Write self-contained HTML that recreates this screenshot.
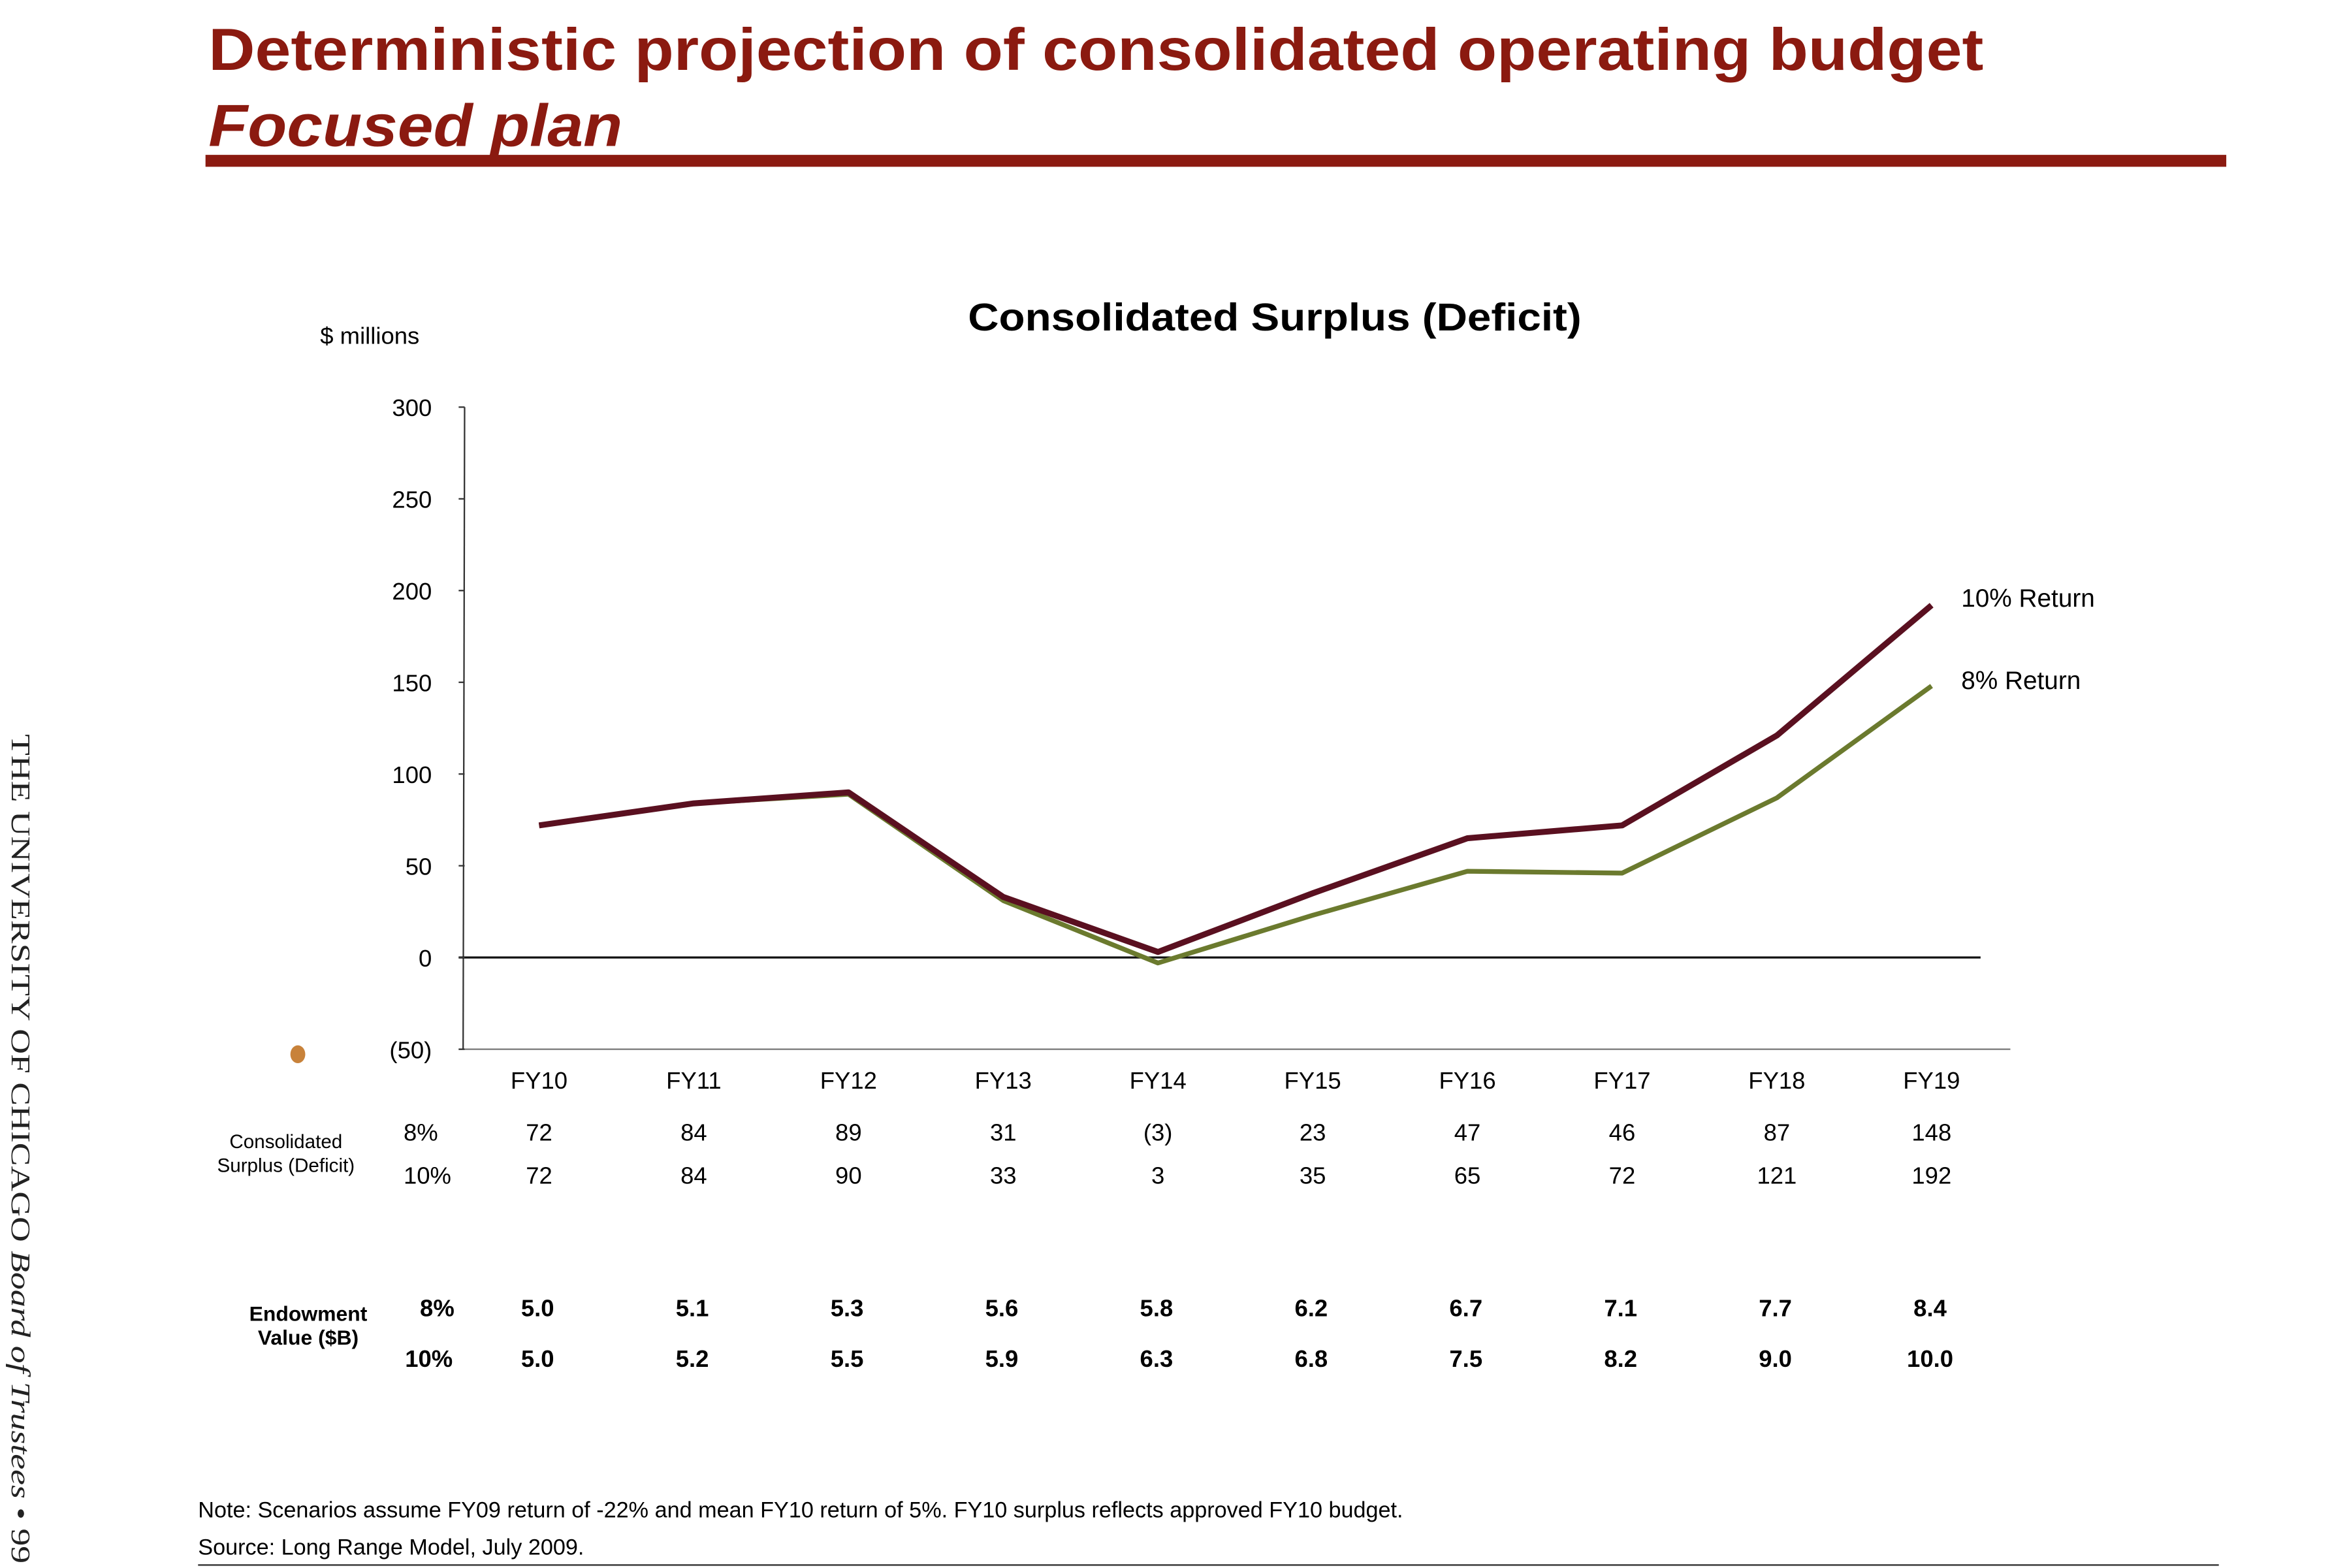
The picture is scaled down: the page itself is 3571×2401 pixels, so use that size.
<!DOCTYPE html>
<html><head><meta charset="utf-8"><style>html,body{margin:0;padding:0;background:#fff}svg{display:block}</style></head>
<body>
<svg id="chart" xmlns="http://www.w3.org/2000/svg" width="3571" height="2401" viewBox="0 0 1566 1053" preserveAspectRatio="none" font-family="'Liberation Sans', Arial, sans-serif">
<rect width="1566" height="1053" fill="#fff"/>
<text x="140" y="47" font-size="40" font-weight="bold" fill="#8b1a10" textLength="1192" lengthAdjust="spacingAndGlyphs">Deterministic projection of consolidated operating budget</text>
<text x="140" y="98" font-size="40" font-weight="bold" font-style="italic" fill="#8b1a10" textLength="278" lengthAdjust="spacingAndGlyphs">Focused plan</text>
<rect x="138" y="104" width="1357" height="8" fill="#8b1a10"/>
<text transform="translate(8,493) rotate(90)" font-family="'Liberation Serif', serif" font-size="18" fill="#222" textLength="557" lengthAdjust="spacingAndGlyphs">THE UNIVERSITY OF CHICAGO <tspan font-style="italic">Board of Trustees</tspan> • 99</text>
<text x="856" y="222" font-size="26" font-weight="bold" text-anchor="middle" textLength="412" lengthAdjust="spacingAndGlyphs">Consolidated Surplus (Deficit)</text>
<text x="215" y="231" font-size="16">$ millions</text>
<ellipse cx="200" cy="708" rx="5" ry="6" fill="#c8823a"/>
<g id="axes"></g>
<g id="series"></g>
<g id="table"></g>
<text x="133" y="1019" font-size="15">Note: Scenarios assume FY09 return of -22% and mean FY10 return of 5%.  FY10 surplus reflects approved FY10 budget.</text>
<text x="133" y="1044" font-size="15">Source: Long Range Model, July 2009.</text>
<line x1="133" y1="1051" x2="1490" y2="1051" stroke="#444" stroke-width="1.2"/>
</svg>
<script>
const categories = ["FY10","FY11","FY12","FY13","FY14","FY15","FY16","FY17","FY18","FY19"];
const surplus8 = [72,84,89,31,-3,23,47,46,87,148];
const surplus10 = [72,84,90,33,3,35,65,72,121,192];
const endow8 = ["5.0","5.1","5.3","5.6","5.8","6.2","6.7","7.1","7.7","8.4"];
const endow10 = ["5.0","5.2","5.5","5.9","6.3","6.8","7.5","8.2","9.0","10.0"];
const yTicks = [300,250,200,150,100,50,0,-50];

const NS = "http://www.w3.org/2000/svg";
function y(v){ return 643 - v * (61.6/50); }
function x(i){ return 362 + i * 103.9; }
function mk(tag, attrs, parent, txt){
  const e = document.createElementNS(NS, tag);
  for (const k in attrs) e.setAttribute(k, attrs[k]);
  if (txt !== undefined) e.textContent = txt;
  parent.appendChild(e);
  return e;
}
function fmt(v){ return v < 0 ? "(" + (-v) + ")" : String(v); }
const axes = document.getElementById("axes");
let e = mk("line",{x1:312,y1:y(300),x2:311,y2:y(-50),stroke:"#333","stroke-width":1},axes);


e = mk("line",{x1:308,y1:y(-50),x2:1350,y2:y(-50),stroke:"#777","stroke-width":1},axes);


e = mk("line",{x1:308,y1:y(0),x2:1330,y2:y(0),stroke:"#111","stroke-width":1.4},axes);


yTicks.forEach(v => {
  const t = mk("line",{x1:308,y1:y(v),x2:312,y2:y(v),stroke:"#333","stroke-width":1},axes);
  
  
  const l = mk("text",{x:290,y:y(v)+6,"font-size":16,"text-anchor":"end"},axes,fmt(v));
  
  
});
categories.forEach((c,i) => {
  const l = mk("text",{x:x(i),y:731,"font-size":16,"text-anchor":"middle"},axes,c);
  
  
});
const series = document.getElementById("series");
function pts(arr){ return arr.map((v,i)=>x(i)+","+y(v)).join(" "); }
let p = mk("polyline",{points:pts(surplus8),fill:"none",stroke:"#6b7a2e","stroke-width":3.2,"stroke-linejoin":"round"},series);


p = mk("polyline",{points:pts(surplus10),fill:"none",stroke:"#5a1020","stroke-width":4,"stroke-linejoin":"round"},series);


let lb = mk("text",{x:1317,y:y(surplus10[9])+1,"font-size":17},series,"10% Return");


lb = mk("text",{x:1317,y:y(surplus8[9])+2,"font-size":17},series,"8% Return");



const tb = document.getElementById("table");
function row(txt, attrs, name){
  const t = mk("text", attrs, tb, txt);
  
  
}
row("Consolidated",{x:192,y:771,"font-size":13,"text-anchor":"middle"},"surplus-row-label");
row("Surplus (Deficit)",{x:192,y:787,"font-size":13,"text-anchor":"middle"},"surplus-row-label");
row("8%",{x:271,y:766,"font-size":16},"surplus-8-label");
row("10%",{x:271,y:795,"font-size":16},"surplus-10-label");
row("Endowment",{x:207,y:887,"font-size":14,"font-weight":"bold","text-anchor":"middle"},"endowment-row-label");
row("Value ($B)",{x:207,y:903,"font-size":14,"font-weight":"bold","text-anchor":"middle"},"endowment-row-label");
row("8%",{x:282,y:884,"font-size":16,"font-weight":"bold"},"endowment-8-label");
row("10%",{x:272,y:918,"font-size":16,"font-weight":"bold"},"endowment-10-label");
categories.forEach((c,i) => {
  row(fmt(surplus8[i]),{x:x(i),y:766,"font-size":16,"text-anchor":"middle"},"surplus-8-value");
  row(fmt(surplus10[i]),{x:x(i),y:795,"font-size":16,"text-anchor":"middle"},"surplus-10-value");
  row(endow8[i],{x:x(i)-1,y:884,"font-size":16,"font-weight":"bold","text-anchor":"middle"},"endowment-8-value");
  row(endow10[i],{x:x(i)-1,y:918,"font-size":16,"font-weight":"bold","text-anchor":"middle"},"endowment-10-value");
});
</script>
</body></html>
